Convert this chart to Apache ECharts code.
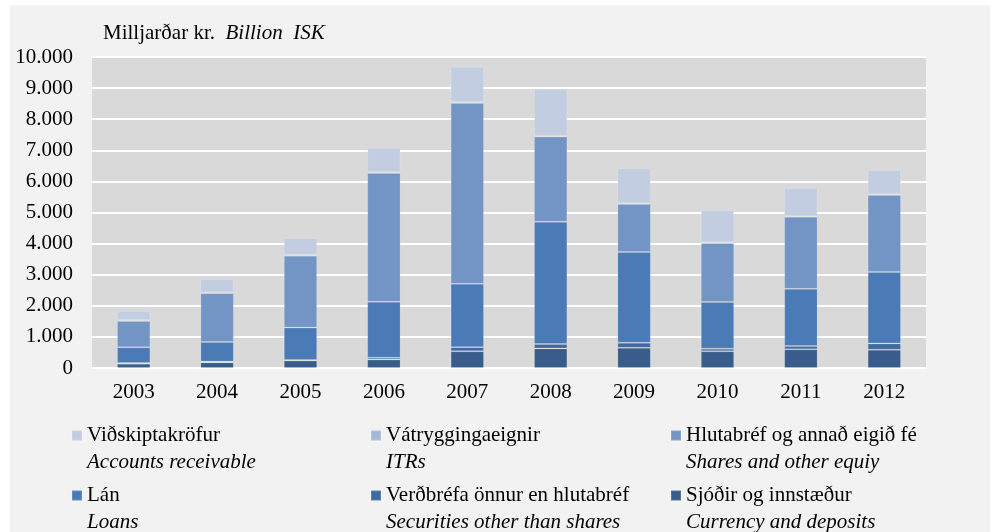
<!DOCTYPE html>
<html>
<head>
<meta charset="utf-8">
<script src="https://cdn.jsdelivr.net/npm/echarts@6/dist/echarts.min.js"></script>
<style>
  html, body { margin: 0; padding: 0; background: #fff; }
  #chart { width: 1000px; height: 532px; }
</style>
</head>
<body>
<div id="chart"></div>
<script>
const years = ['2003', '2004', '2005', '2006', '2007', '2008', '2009', '2010', '2011', '2012']

// billion ISK, stacked bottom to top
const sjodir = [140, 180, 240, 270, 540, 630, 650, 540, 600, 590]
const verdbrefa = [20, 25, 20, 60, 130, 140, 160, 80, 110, 200]
const lan = [505, 631, 1040, 1800, 2040, 3930, 2920, 1505, 1835, 2300]
const hlutabref = [848, 1568, 2310, 4140, 5810, 2740, 1540, 1895, 2315, 2475]
const vatrygg = [30, 30, 30, 30, 30, 30, 30, 30, 30, 30]
const vidskipta = [290, 428, 540, 784, 1139, 1511, 1121, 1020, 900, 772]

const yTicks = [0, 1000, 2000, 3000, 4000, 5000, 6000, 7000, 8000, 9000, 10000]

const seriesDefs = [
  { name: 'Sjóðir og innstæður', en: 'Currency and deposits', data: sjodir, color: '#385d8a' },
  { name: 'Verðbréfa önnur en hlutabréf', en: 'Securities other than shares', data: verdbrefa, color: '#3f6aa0' },
  { name: 'Lán', en: 'Loans', data: lan, color: '#4a7bb7' },
  { name: 'Hlutabréf og annað eigið fé', en: 'Shares and other equiy', data: hlutabref, color: '#7395c6' },
  { name: 'Vátryggingaeignir', en: 'ITRs', data: vatrygg, color: '#a6b7d8' },
  { name: 'Viðskiptakröfur', en: 'Accounts receivable', data: vidskipta, color: '#c2cde1' }
]

// legend layout: [seriesIndex, left, top]
const legendPos = [
  [5, 71, 425], [4, 370, 425], [3, 670, 425],
  [2, 71, 485], [1, 370, 485], [0, 670, 485]
]

const fontFam = '"Liberation Serif", "Times New Roman", serif'
const enByName = {}
seriesDefs.forEach(s => { enByName[s.name] = s.en })

function fmt(v) {
  return String(v).replace(/\B(?=(\d{3})+(?!\d))/g, '.')
}

const chart = echarts.init(document.getElementById('chart'))

chart.setOption({
  animation: false,
  backgroundColor: '#fff',
  graphic: [
    { type: 'rect', z: -10, shape: { x: 10, y: 5, width: 980, height: 527 }, style: { fill: '#f2f2f2' }, silent: true },
    {
      type: 'text', left: 103, top: 23,
      style: {
        text: '{n|Milljarðar kr.  }{i|Billion  ISK}',
        rich: {
          n: { fontFamily: fontFam, fontSize: 21, fill: '#000' },
          i: { fontFamily: fontFam, fontSize: 21, fontStyle: 'italic', fill: '#000' }
        }
      }
    }
  ],
  grid: {
    left: 92, right: 74, top: 57, bottom: 164,
    show: true, backgroundColor: '#d9d9d9', borderWidth: 0
  },
  legend: legendPos.map(([idx, left, top]) => ({
    data: [seriesDefs[idx].name],
    left: left, top: top, padding: 0,
    itemWidth: 10, itemHeight: 37,
    icon: 'path://M0,0L10,0L10,10L0,10Z M0,36.95L0.05,36.95L0.05,37L0,37Z',
    selectedMode: false,
    formatter: name => '{a|' + name + '}\n{b|' + enByName[name] + '}',
    textStyle: {
      rich: {
        a: { fontFamily: fontFam, fontSize: 21, color: '#000', lineHeight: 27 },
        b: { fontFamily: fontFam, fontSize: 21, fontStyle: 'italic', color: '#000', lineHeight: 27 }
      }
    }
  })),
  xAxis: {
    type: 'category',
    data: years,
    axisLine: { show: true, lineStyle: { color: '#fff', width: 2 } },
    axisTick: { show: false },
    axisLabel: { fontFamily: fontFam, fontSize: 21, color: '#000', margin: 14 }
  },
  yAxis: {
    type: 'value',
    min: yTicks[0], max: yTicks[yTicks.length - 1], interval: 1000,
    axisLine: { show: false },
    axisTick: { show: false },
    splitLine: { lineStyle: { color: '#fff', width: 2 } },
    axisLabel: { fontFamily: fontFam, fontSize: 21, color: '#000', margin: 19, formatter: v => fmt(v) }
  },
  series: seriesDefs.map(s => ({
    name: s.name,
    type: 'bar',
    stack: 'total',
    barWidth: '40%',
    data: s.data,
    itemStyle: { color: s.color, borderColor: 'rgba(255,255,255,0.15)', borderWidth: 1 }
  }))
})

window.addEventListener('resize', () => chart.resize())
</script>
</body>
</html>
